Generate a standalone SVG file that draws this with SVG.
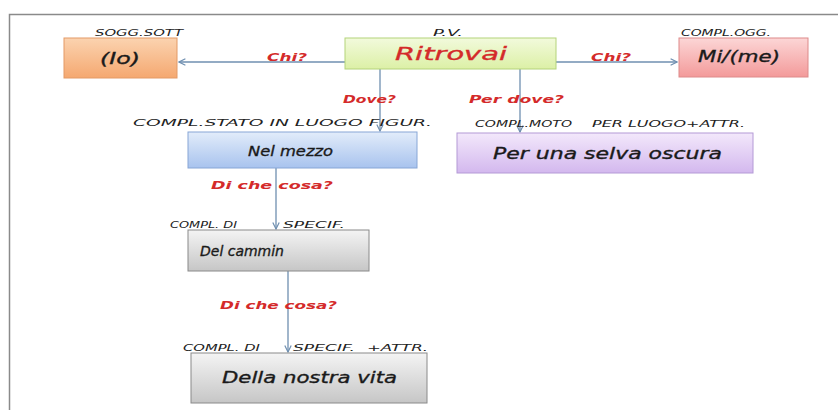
<svg xmlns="http://www.w3.org/2000/svg" width="838" height="410" viewBox="0 0 838 410">
<defs>
<linearGradient id="gOr" x1="0" y1="0" x2="0" y2="1"><stop offset="0" stop-color="#fbd3b0"/><stop offset="1" stop-color="#f5a870"/></linearGradient>
<linearGradient id="gGr" x1="0" y1="0" x2="0" y2="1"><stop offset="0" stop-color="#f2fadc"/><stop offset="1" stop-color="#dcf0a6"/></linearGradient>
<linearGradient id="gPk" x1="0" y1="0" x2="0" y2="1"><stop offset="0" stop-color="#fcd6d6"/><stop offset="1" stop-color="#f39a9a"/></linearGradient>
<linearGradient id="gBl" x1="0" y1="0" x2="0" y2="1"><stop offset="0" stop-color="#e2ecfa"/><stop offset="1" stop-color="#a8c3ee"/></linearGradient>
<linearGradient id="gLv" x1="0" y1="0" x2="0" y2="1"><stop offset="0" stop-color="#f3e8fb"/><stop offset="1" stop-color="#d3b8ee"/></linearGradient>
<linearGradient id="gGy" x1="0" y1="0" x2="0" y2="1"><stop offset="0" stop-color="#f4f4f4"/><stop offset="1" stop-color="#c6c6c6"/></linearGradient>
<marker id="arr" viewBox="0 0 10 10" refX="9" refY="5" markerWidth="8" markerHeight="8" orient="auto" markerUnits="userSpaceOnUse"><path d="M1,1 L9,5 L1,9" fill="none" stroke="#6f8fb0" stroke-width="1.5"/></marker>
</defs>
<style>
.box{stroke-width:1}
.nt{font-family:"DejaVu Sans",sans-serif;font-style:oblique;font-size:16px;fill:#1a1a1a;stroke:#1a1a1a;stroke-width:0.35}
.cap{font-family:"DejaVu Sans",sans-serif;font-style:oblique;font-size:9.5px;fill:#222}
.q{font-family:"DejaVu Sans",sans-serif;font-style:oblique;font-weight:bold;font-size:10.5px;fill:#d42a2a}
.ln{stroke:#6f8fb0;stroke-width:1.3;fill:none}
</style>
<rect width="838" height="410" fill="#ffffff"/>
<path d="M9.5,410 V14.5 H838" fill="none" stroke="#8a8a8a" stroke-width="1.5"/>
<g id="connectors">
<line class="ln" x1="345" y1="62" x2="179" y2="62" marker-end="url(#arr)"/>
<line class="ln" x1="556" y1="62" x2="677" y2="62" marker-end="url(#arr)"/>
<line class="ln" x1="380" y1="69" x2="380" y2="131" marker-end="url(#arr)"/>
<line class="ln" x1="520" y1="69" x2="520" y2="132" marker-end="url(#arr)"/>
<line class="ln" x1="276" y1="168" x2="276" y2="229" marker-end="url(#arr)"/>
<line class="ln" x1="288" y1="271" x2="288" y2="352" marker-end="url(#arr)"/>
<text class="q" x="267" y="61" textLength="40" lengthAdjust="spacingAndGlyphs">Chi?</text>
<text class="q" x="591" y="61" textLength="40" lengthAdjust="spacingAndGlyphs">Chi?</text>
<text class="q" x="343" y="103" textLength="53" lengthAdjust="spacingAndGlyphs">Dove?</text>
<text class="q" x="469" y="103" textLength="95" lengthAdjust="spacingAndGlyphs">Per dove?</text>
<text class="q" x="211" y="189" textLength="122" lengthAdjust="spacingAndGlyphs">Di che cosa?</text>
<text class="q" x="220" y="309" textLength="117" lengthAdjust="spacingAndGlyphs">Di che cosa?</text>
</g>
<g id="io">
<rect class="box" x="64" y="38" width="113" height="40" fill="url(#gOr)" stroke="#e39a66"/>
<text class="nt" x="100" y="64" textLength="40" lengthAdjust="spacingAndGlyphs">(Io)</text>
<text class="cap" x="95" y="36" textLength="88" lengthAdjust="spacingAndGlyphs">SOGG.SOTT</text>
</g>
<g id="ritrovai">
<rect class="box" x="345" y="38" width="211" height="31" fill="url(#gGr)" stroke="#b4d37a"/>
<text class="nt" x="395" y="60" textLength="112" lengthAdjust="spacingAndGlyphs" style="fill:#d42a2a;stroke:#d42a2a;font-size:18px">Ritrovai</text>
<text class="cap" x="433" y="36" textLength="30" lengthAdjust="spacingAndGlyphs">P.V.</text>
</g>
<g id="mi">
<rect class="box" x="679" y="38" width="129" height="39" fill="url(#gPk)" stroke="#dd8a8a"/>
<text class="nt" x="698" y="62" textLength="82" lengthAdjust="spacingAndGlyphs">Mi/(me)</text>
<text class="cap" x="681" y="36" textLength="90" lengthAdjust="spacingAndGlyphs">COMPL.OGG.</text>
</g>
<g id="nel-mezzo">
<rect class="box" x="188" y="132" width="229" height="36" fill="url(#gBl)" stroke="#87a6d6"/>
<text class="nt" x="248" y="156" textLength="85" lengthAdjust="spacingAndGlyphs" style="font-size:14.5px">Nel mezzo</text>
<text class="cap" x="133" y="126" textLength="299" lengthAdjust="spacingAndGlyphs">COMPL.STATO IN LUOGO FIGUR.</text>
</g>
<g id="selva">
<rect class="box" x="457" y="133" width="296" height="40" fill="url(#gLv)" stroke="#b49ad6"/>
<text class="nt" x="493" y="159" textLength="229" lengthAdjust="spacingAndGlyphs">Per una selva oscura</text>
<text class="cap" x="475" y="127" textLength="97" lengthAdjust="spacingAndGlyphs">COMPL.MOTO</text>
<text class="cap" x="592" y="127" textLength="153" lengthAdjust="spacingAndGlyphs">PER LUOGO+ATTR.</text>
</g>
<g id="cammin">
<rect class="box" x="188" y="230" width="181" height="41" fill="url(#gGy)" stroke="#8a8a8a"/>
<text class="nt" x="200" y="256" textLength="84" lengthAdjust="spacingAndGlyphs" style="font-size:14.5px">Del cammin</text>
<text class="cap" x="170" y="228" textLength="67" lengthAdjust="spacingAndGlyphs">COMPL. DI</text>
<text class="cap" x="283" y="228" textLength="62" lengthAdjust="spacingAndGlyphs">SPECIF.</text>
</g>
<g id="vita">
<rect class="box" x="191" y="353" width="236" height="50" fill="url(#gGy)" stroke="#8a8a8a"/>
<text class="nt" x="222" y="383" textLength="175" lengthAdjust="spacingAndGlyphs">Della nostra vita</text>
<text class="cap" x="183" y="351" textLength="77" lengthAdjust="spacingAndGlyphs">COMPL. DI</text>
<text class="cap" x="293" y="351" textLength="62" lengthAdjust="spacingAndGlyphs">SPECIF.</text>
<text class="cap" x="367" y="351" textLength="61" lengthAdjust="spacingAndGlyphs">+ATTR.</text>
</g>
</svg>
